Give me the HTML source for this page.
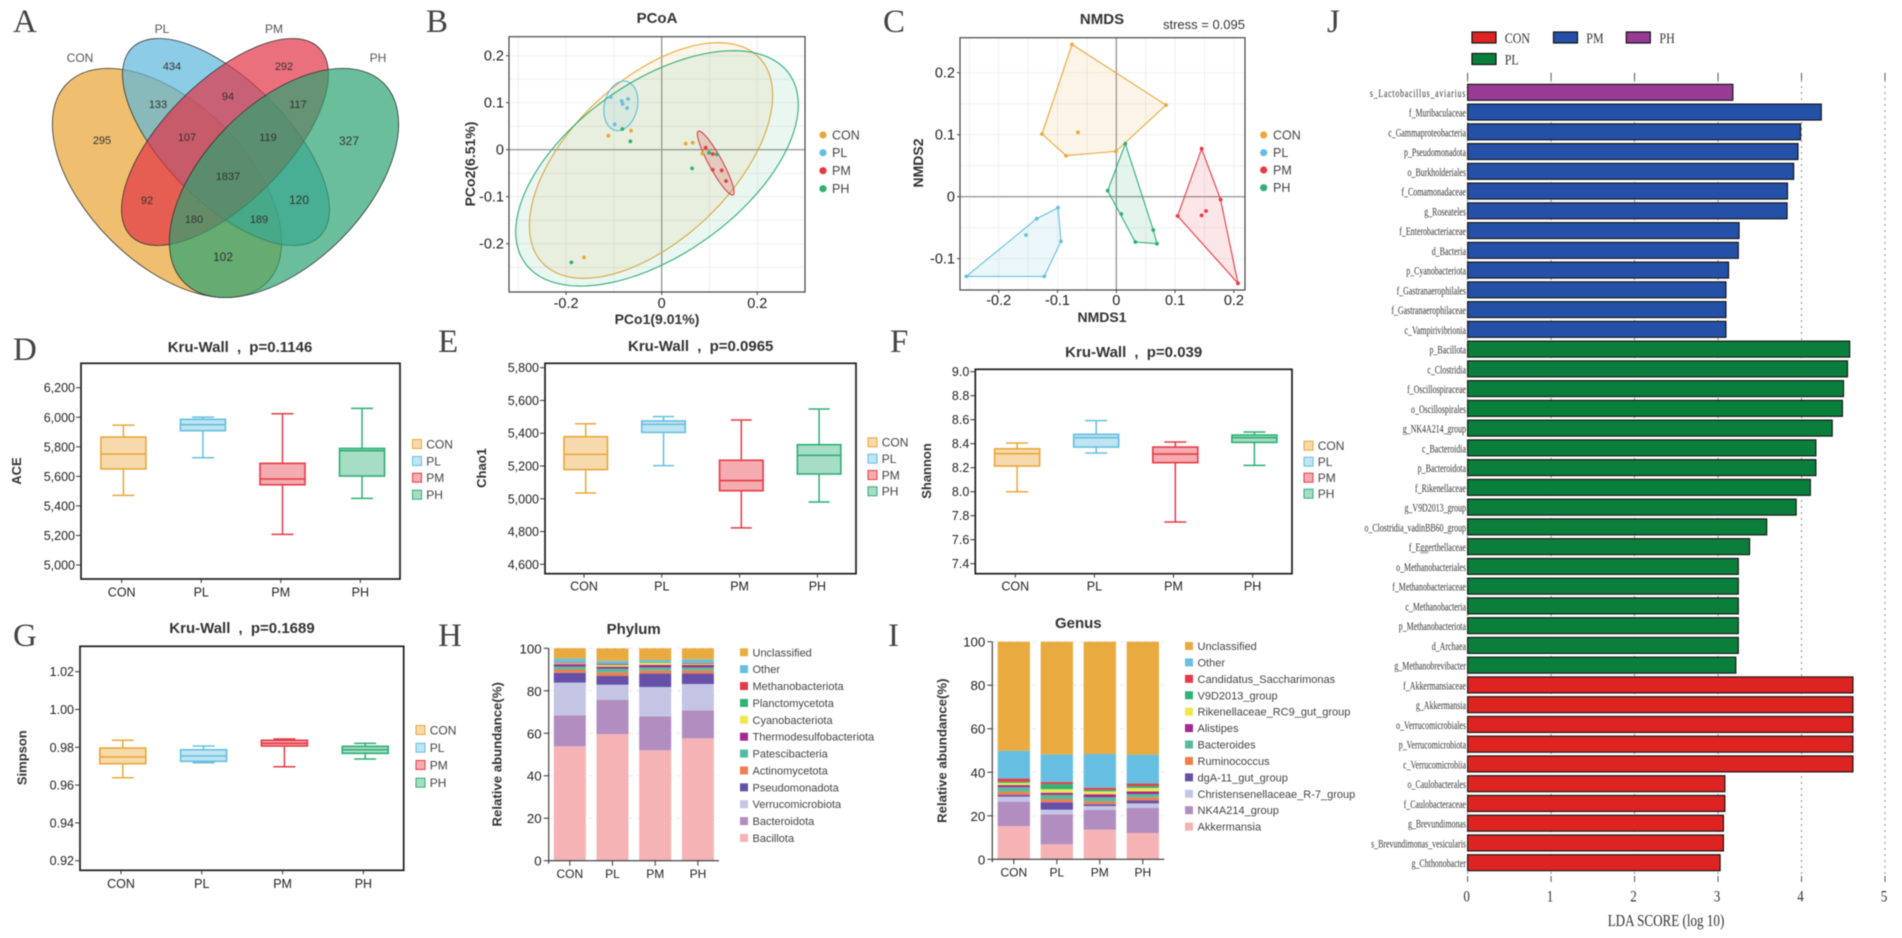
<!DOCTYPE html>
<html lang="en">
<head>
<meta charset="utf-8">
<title>Microbiome diversity composite figure</title>
<style>
html,body{margin:0;padding:0;background:#fff;width:1902px;height:938px;overflow:hidden}
svg{display:block;filter:blur(.4px)}
text{font-family:"Liberation Sans",sans-serif;fill:#333}
.letter{font-family:"Liberation Serif",serif;font-size:33px;fill:#444}
.title{font-weight:bold;font-size:15px;text-anchor:middle;fill:#333;word-spacing:4px}
.axt{font-weight:bold;font-size:14px;text-anchor:middle;fill:#333}
.boxt{font-weight:bold;font-size:13px;text-anchor:middle;fill:#333}
.vn{font-size:11px;text-anchor:middle;fill:#333}
.vl{font-size:12px;text-anchor:middle;fill:#555}
.serif{font-family:"Liberation Serif",serif;fill:#333}
</style>
</head>
<body>
<svg xmlns="http://www.w3.org/2000/svg" width="1902" height="938" viewBox="0 0 1902 938">
<rect x="0" y="0" width="1902" height="938" fill="#fff"/>

<g>
<text class="letter" x="13" y="32">A</text>
<text class="letter" x="426" y="32">B</text>
<text class="letter" x="883" y="32">C</text>
<text class="letter" x="13" y="360">D</text>
<text class="letter" x="438" y="352">E</text>
<text class="letter" x="890" y="352">F</text>
<text class="letter" x="13" y="646">G</text>
<text class="letter" x="438" y="646">H</text>
<text class="letter" x="888" y="646">I</text>
<text class="letter" x="1327" y="32">J</text>
</g>

<g>
<ellipse cx="167" cy="183" rx="141" ry="80" transform="rotate(45 167 183)" fill="#e9a637" fill-opacity=".72" stroke="#333" stroke-width=".8"/>
<ellipse cx="226" cy="142" rx="133" ry="61" transform="rotate(45 226 142)" fill="#5db7db" fill-opacity=".7" stroke="#333" stroke-width=".8"/>
<ellipse cx="225" cy="142" rx="133" ry="61" transform="rotate(-45 225 142)" fill="#e23346" fill-opacity=".7" stroke="#333" stroke-width=".8"/>
<ellipse cx="284" cy="183" rx="141" ry="80" transform="rotate(-45 284 183)" fill="#2ca270" fill-opacity=".7" stroke="#333" stroke-width=".8"/>
<text class="vl" x="80" y="62">CON</text>
<text class="vl" x="162" y="33">PL</text>
<text class="vl" x="274" y="33">PM</text>
<text class="vl" x="378" y="62">PH</text>
<text class="vn" x="172" y="70">434</text>
<text class="vn" x="284" y="70">292</text>
<text class="vn" x="158" y="108">133</text>
<text class="vn" x="228" y="100">94</text>
<text class="vn" x="298" y="108">117</text>
<text class="vn" x="102" y="144">295</text>
<text class="vn" x="187" y="141">107</text>
<text class="vn" x="268" y="141">119</text>
<text class="vn" style="font-size:12px" x="349" y="145">327</text>
<text class="vn" x="228" y="180">1837</text>
<text class="vn" x="147" y="204">92</text>
<text class="vn" style="font-size:12px" x="299" y="204">120</text>
<text class="vn" x="194" y="223">180</text>
<text class="vn" x="259" y="223">189</text>
<text class="vn" style="font-size:12px" x="223" y="261">102</text>
</g>

<g id="pcoa">
<text class="title" x="657" y="23">PCoA</text>
<text class="axt" x="657" y="324">PCo1(9.01%)</text>
<text class="axt" transform="translate(475 164) rotate(-90)">PCo2(6.51%)</text>
</g>

<g id="nmds">
<text class="title" x="1102" y="24">NMDS</text>
<text x="1245" y="29" style="font-size:13px;text-anchor:end">stress = 0.095</text>
<text class="axt" x="1102" y="322">NMDS1</text>
<text class="axt" transform="translate(923 163) rotate(-90)">NMDS2</text>
</g>

<g id="ace">
<text class="title" x="240" y="352">Kru-Wall , p=0.1146</text>
<text class="boxt" transform="translate(21 471) rotate(-90)">ACE</text>
</g>
<g id="chao">
<text class="title" x="700.7" y="351">Kru-Wall , p=0.0965</text>
<text class="boxt" transform="translate(486 468) rotate(-90)">Chao1</text>
</g>
<g id="shannon">
<text class="title" x="1133.7" y="357">Kru-Wall , p=0.039</text>
<text class="boxt" transform="translate(931 471) rotate(-90)">Shannon</text>
</g>
<g id="simpson">
<text class="title" x="242" y="633">Kru-Wall , p=0.1689</text>
<text class="boxt" transform="translate(26.5 757.7) rotate(-90)">Simpson</text>
</g>

<g id="phylum">
<text class="title" x="633.7" y="634">Phylum</text>
<text class="boxt" style="font-size:13.2px" transform="translate(501.5 754.3) rotate(-90)">Relative abundance(%)</text>
</g>
<g id="genus">
<text class="title" x="1078.3" y="628">Genus</text>
<text class="boxt" style="font-size:13.2px" transform="translate(946.5 750.7) rotate(-90)">Relative abundance(%)</text>
</g>

<g id="lda">
<g>
<rect x="1472" y="32" width="24" height="11" fill="#de2420" stroke="#111" stroke-width="1.2"/>
<text class="serif" style="font-size:15px" transform="translate(1504.7 43) scale(.8 1)">CON</text>
<rect x="1553.5" y="32" width="24" height="11" fill="#2450a8" stroke="#111" stroke-width="1.2"/>
<text class="serif" style="font-size:15px" transform="translate(1586.3 43) scale(.8 1)">PM</text>
<rect x="1626.3" y="32" width="24" height="11" fill="#993a94" stroke="#111" stroke-width="1.2"/>
<text class="serif" style="font-size:15px" transform="translate(1659.4 43) scale(.8 1)">PH</text>
<rect x="1472" y="53.5" width="24" height="11" fill="#0a7f3c" stroke="#111" stroke-width="1.2"/>
<text class="serif" style="font-size:15px" transform="translate(1504.7 64.5) scale(.8 1)">PL</text>
</g>
<text class="serif" style="font-size:17px;text-anchor:middle" transform="translate(1666 926) scale(.77 1)">LDA SCORE (log 10)</text>
</g>

<script>
// ---------- shared categories ----------
const groups = ['CON', 'PL', 'PM', 'PH'];

// ---------- PCoA points and ellipses (data units) ----------
const pcoaConX = [-0.1116, -0.0642, 0.0502, 0.0649, 0.0851, -0.1625];
const pcoaConY = [0.0298, 0.0404, 0.0128, 0.0149, -0.0085, -0.2291];
const pcoaPlX = [-0.1067, -0.0837, -0.0816, -0.0704, -0.0725, -0.0983];
const pcoaPlY = [0.1121, 0.1035, 0.0972, 0.1078, 0.0887, 0.0539];
const pcoaPmX = [0.0921, 0.1067, 0.1255, 0.1067, 0.1346];
const pcoaPmY = [0.0043, -0.0092, -0.0440, -0.0426, -0.0667];
const pcoaPhX = [-0.0823, -0.0656, 0.0990, 0.1151, 0.0635, -0.1890];
const pcoaPhY = [0.0440, 0.0177, -0.0064, -0.0099, -0.0397, -0.2397];
const pcoaEllipseCx = [-0.0223, -0.0854, 0.1130, -0.0098];
const pcoaEllipseCy = [-0.0230, 0.0933, -0.0284, -0.0397];
const pcoaEllipseHx = [0.2545, 0.0356, 0.0384, 0.2957];
const pcoaEllipseHy = [0.2507, 0.0528, 0.0681, 0.2504];
const pcoaEllipseRho = [0.553, 0.18, -0.91, 0.54];
const pcoaXTicks = [-0.2, 0, 0.2];
const pcoaYTicks = [0.2, 0.1, 0, -0.1, -0.2];
const pcoaGridX = [-0.3, -0.2, -0.1, 0.1, 0.2, 0.3];
const pcoaGridY = [0.2, 0.15, 0.1, 0.05, -0.05, -0.1, -0.15, -0.2, -0.25];

// ---------- NMDS points (data units) ----------
const nmdsConX = [-0.0754, 0.0845, -0.0006, -0.0856, -0.1264, -0.0652];
const nmdsConY = [0.2457, 0.1478, 0.0731, 0.0661, 0.1011, 0.1038];
const nmdsPlX = [-0.2551, -0.1224, -0.0941, -0.0992, -0.1355, -0.1536];
const nmdsPlY = [-0.1285, -0.1285, -0.0720, -0.0177, -0.0355, -0.0618];
const nmdsPmX = [0.1451, 0.1774, 0.2069, 0.1043, 0.1451, 0.1525];
const nmdsPmY = [0.0774, -0.0048, -0.1398, -0.0312, -0.0301, -0.0231];
const nmdsPhX = [0.0153, 0.0629, 0.0692, 0.0323, 0.0085, -0.0147];
const nmdsPhY = [0.0855, -0.0538, -0.0758, -0.0731, -0.0280, 0.0097];
const nmdsXTicks = [-0.2, -0.1, 0, 0.1, 0.2];
const nmdsYTicks = [0.2, 0.1, 0, -0.1];
const nmdsGridX = [-0.25, -0.2, -0.15, -0.1, -0.05, 0.05, 0.1, 0.15, 0.2];
const nmdsGridY = [0.2, 0.15, 0.1, 0.05, -0.05, -0.1];

// ---------- box-plot stats, one value per group ----------
const aceLow = [5471, 5726, 5207, 5451];
const aceQ1 = [5650, 5909, 5543, 5602];
const aceMedian = [5751, 5950, 5582, 5774];
const aceQ3 = [5866, 5986, 5688, 5789];
const aceHigh = [5947, 6001, 6024, 6060];
const aceTicks = [5000, 5200, 5400, 5600, 5800, 6000, 6200];

const chaoLow = [5035, 5202, 4822, 4980];
const chaoQ1 = [5178, 5405, 5049, 5151];
const chaoMedian = [5271, 5454, 5111, 5265];
const chaoQ3 = [5379, 5475, 5235, 5330];
const chaoHigh = [5458, 5501, 5481, 5548];
const chaoTicks = [4600, 4800, 5000, 5200, 5400, 5600, 5800];

const shannonLow = [8.0, 8.322, 7.747, 8.219];
const shannonQ1 = [8.214, 8.372, 8.242, 8.411];
const shannonMedian = [8.317, 8.45, 8.314, 8.45];
const shannonQ3 = [8.358, 8.478, 8.372, 8.472];
const shannonHigh = [8.406, 8.592, 8.414, 8.497];
const shannonTicks = [7.4, 7.6, 7.8, 8.0, 8.2, 8.4, 8.6, 8.8, 9.0];

const simpsonLow = [0.9639, 0.9718, 0.9697, 0.9738];
const simpsonQ1 = [0.9713, 0.9726, 0.9807, 0.9768];
const simpsonMedian = [0.9749, 0.9754, 0.9821, 0.9787];
const simpsonQ3 = [0.9796, 0.9787, 0.9837, 0.9805];
const simpsonHigh = [0.9837, 0.9807, 0.9844, 0.9821];
const simpsonTicks = [0.92, 0.94, 0.96, 0.98, 1.00, 1.02];

// ---------- Phylum composition (%), bottom to top ----------
const phylumNames = ['Bacillota', 'Bacteroidota', 'Verrucomicrobiota', 'Pseudomonadota', 'Actinomycetota', 'Patescibacteria', 'Thermodesulfobacteriota', 'Cyanobacteriota', 'Planctomycetota', 'Methanobacteriota', 'Other', 'Unclassified'];
const phylumBacillota = [53.85, 59.65, 52.0, 57.6];
const phylumBacteroidota = [14.6, 16.0, 16.0, 13.2];
const phylumVerrucomicrobiota = [15.4, 7.2, 13.8, 12.4];
const phylumPseudomonadota = [4.6, 4.1, 6.3, 4.9];
const phylumActinomycetota = [1.6, 1.7, 1.5, 1.5];
const phylumPatescibacteria = [1.4, 1.7, 1.4, 1.4];
const phylumThermodesulfobacteriota = [1.1, 1.0, 1.2, 1.2];
const phylumCyanobacteriota = [0.3, 0.7, 0.9, 0.4];
const phylumPlanctomycetota = [0.1, 0.3, 0.2, 0.3];
const phylumMethanobacteriota = [0.3, 0.4, 0.1, 0.3];
const phylumOther = [1.9, 1.4, 1.1, 1.6];
const phylumUnclassified = [4.9, 5.8, 5.5, 5.2];

// ---------- Genus composition (%), bottom to top ----------
const genusNames = ['Akkermansia', 'NK4A214_group', 'Christensenellaceae_R-7_group', 'dgA-11_gut_group', 'Ruminococcus', 'Bacteroides', 'Alistipes', 'Rikenellaceae_RC9_gut_group', 'V9D2013_group', 'Candidatus_Saccharimonas', 'Other', 'Unclassified'];
const genusAkkermansia = [15.3, 6.9, 13.6, 12.1];
const genusNk4a214 = [11.2, 13.8, 9.1, 11.5];
const genusChristensenellaceae = [2.3, 2.1, 1.8, 2.1];
const genusDga11 = [0.8, 3.4, 0.8, 1.3];
const genusRuminococcus = [1.5, 1.5, 1.3, 1.5];
const genusBacteroides = [2.0, 1.9, 1.9, 1.5];
const genusAlistipes = [1.0, 1.0, 1.4, 1.2];
const genusRikenellaceae = [1.0, 1.6, 1.3, 1.6];
const genusV9d2013 = [0.6, 2.3, 0.7, 0.9];
const genusCandidatus = [1.4, 1.0, 1.0, 1.1];
const genusOther = [12.8, 12.7, 15.5, 13.3];
const genusUnclassified = [50.1, 51.8, 51.6, 51.9];

const stackTicks = [0, 20, 40, 60, 80, 100];
const stackColors = ['#f5b3b5', '#b28dc0', '#c4c4e4', '#6650a8', '#ec7f4e', '#55bb9f', '#a3298e', '#efe64f', '#2fb177', '#e63b46', '#66bfe0', '#e9ab3f'];

// ---------- LDA scores ----------
const ldaLabels = ['s_Lactobacillus_aviarius', 'f_Muribaculaceae', 'c_Gammaproteobacteria', 'p_Pseudomonadota', 'o_Burkholderiales', 'f_Comamonadaceae', 'g_Roseateles', 'f_Enterobacteriaceae', 'd_Bacteria', 'p_Cyanobacteriota', 'f_Gastranaerophilales', 'f_Gastranaerophilaceae', 'c_Vampirivibrionia', 'p_Bacillota', 'c_Clostridia', 'f_Oscillospiraceae', 'o_Oscillospirales', 'g_NK4A214_group', 'c_Bacteroidia', 'p_Bacteroidota', 'f_Rikenellaceae', 'g_V9D2013_group', 'o_Clostridia_vadinBB60_group', 'f_Eggerthellaceae', 'o_Methanobacteriales', 'f_Methanobacteriaceae', 'c_Methanobacteria', 'p_Methanobacteriota', 'd_Archaea', 'g_Methanobrevibacter', 'f_Akkermansiaceae', 'g_Akkermansia', 'o_Verrucomicrobiales', 'p_Verrucomicrobiota', 'c_Verrucomicrobiia', 'o_Caulobacterales', 'f_Caulobacteraceae', 'g_Brevundimonas', 's_Brevundimonas_vesicularis', 'g_Chthonobacter'];
const ldaScores = [3.178, 4.237, 3.989, 3.958, 3.906, 3.832, 3.827, 3.252, 3.243, 3.126, 3.095, 3.095, 3.095, 4.577, 4.551, 4.503, 4.490, 4.368, 4.172, 4.172, 4.106, 3.936, 3.583, 3.378, 3.243, 3.243, 3.243, 3.243, 3.243, 3.213, 4.616, 4.616, 4.616, 4.616, 4.616, 3.082, 3.082, 3.065, 3.065, 3.025];
const ldaGroups = ['PH', 'PM', 'PM', 'PM', 'PM', 'PM', 'PM', 'PM', 'PM', 'PM', 'PM', 'PM', 'PM', 'PL', 'PL', 'PL', 'PL', 'PL', 'PL', 'PL', 'PL', 'PL', 'PL', 'PL', 'PL', 'PL', 'PL', 'PL', 'PL', 'PL', 'CON', 'CON', 'CON', 'CON', 'CON', 'CON', 'CON', 'CON', 'CON', 'CON'];
const ldaTicks = [0, 1, 2, 3, 4, 5];

// ---------- drawing ----------
const NS = 'http://www.w3.org/2000/svg';
const groupColors = {CON: '#e9a73a', PL: '#66bfe0', PM: '#e63a46', PH: '#2fae74'};
const ldaColors = {CON: '#de2420', PM: '#2450a8', PH: '#993a94', PL: '#0a7f3c'};

function node(tag, parent, attrs, text) {
  const e = document.createElementNS(NS, tag);
  for (const k in attrs) e.setAttribute(k, attrs[k]);
  if (text !== undefined) e.textContent = text;
  parent.appendChild(e);
  return e;
}
function linear(d0, d1, r0, r1) {
  return v => r0 + (v - d0) * (r1 - r0) / (d1 - d0);
}
function hull(xs, ys) {
  const p = xs.map((x, i) => [x, ys[i]]).sort((a, b) => a[0] - b[0] || a[1] - b[1]);
  const cross = (o, a, b) => (a[0] - o[0]) * (b[1] - o[1]) - (a[1] - o[1]) * (b[0] - o[0]);
  const lo = [], up = [];
  for (const q of p) { while (lo.length > 1 && cross(lo[lo.length - 2], lo[lo.length - 1], q) <= 0) lo.pop(); lo.push(q); }
  for (const q of p.slice().reverse()) { while (up.length > 1 && cross(up[up.length - 2], up[up.length - 1], q) <= 0) up.pop(); up.push(q); }
  return lo.slice(0, -1).concat(up.slice(0, -1));
}
function tickLabel(parent, x, y, str, anchor, size) {
  const t = node('text', parent, {x: x, y: y, style: 'font-size:' + size + 'px;text-anchor:' + anchor + ';fill:#222'}, str);
  
  
}
function tickMark(parent, x1, y1, x2, y2, color) {
  const l = node('line', parent, {x1: x1, y1: y1, x2: x2, y2: y2, stroke: color, 'stroke-width': 1});
  
  
}
function gridLine(parent, x1, y1, x2, y2, color, width, dash) {
  const l = node('line', parent, {x1: x1, y1: y1, x2: x2, y2: y2, stroke: color, 'stroke-width': width});
  if (dash) l.setAttribute('stroke-dasharray', dash);
  
  
}
function frame(parent, L, T, R, B, color, width) {
  const r = node('rect', parent, {x: L, y: T, width: R - L, height: B - T, fill: 'none', stroke: color, 'stroke-width': width});
  
  
}
function dotLegend(parent, dotX, textX, ys) {
  groups.forEach((g, i) => {
    const d = node('circle', parent, {cx: dotX, cy: ys[i], r: 3.6, fill: groupColors[g]});
    
    
    const t = node('text', parent, {x: textX, y: ys[i] + 4.5, style: 'font-size:12.5px;fill:#444'}, g);
    
    
  });
}
function fmtOrd(v) { return v === 0 ? '0' : v.toFixed(1); }

function ordinationAxes(root, cfg, x, y) {
  cfg.gridX.forEach(v => gridLine(root, x(v), cfg.T, x(v), cfg.B, '#efefef', 1));
  cfg.gridY.forEach(v => gridLine(root, cfg.L, y(v), cfg.R, y(v), '#efefef', 1));
  gridLine(root, x(0), cfg.T, x(0), cfg.B, '#9c9c9c', 1.4);
  gridLine(root, cfg.L, y(0), cfg.R, y(0), '#9c9c9c', 1.4);
  frame(root, cfg.L, cfg.T, cfg.R, cfg.B, '#444', 1.2);
  cfg.xTicks.forEach(v => {
    tickMark(root, x(v), cfg.B, x(v), cfg.B + 3, '#444');
    tickLabel(root, x(v), cfg.xLabelY, fmtOrd(v), 'middle', 14.5);
  });
  cfg.yTicks.forEach(v => {
    tickMark(root, cfg.L - 3, y(v), cfg.L, y(v), '#444');
    tickLabel(root, cfg.L - 5, y(v) + 5, fmtOrd(v), 'end', 14.5);
  });
}
function points(root, xs, ys, x, y, color, key) {
  xs.forEach((v, i) => {
    const c = node('circle', root, {cx: x(v), cy: y(ys[i]), r: 1.9, fill: color});
    
    
  });
}

function drawPcoa() {
  const root = document.getElementById('pcoa');
  const x = linear(0, 0.2, 661.7, 757.3);
  const y = linear(0, 0.2, 149.7, 55.7);
  const cfg = {L: 509, T: 36.7, R: 805, B: 292, gridX: pcoaGridX, gridY: pcoaGridY, xTicks: pcoaXTicks, yTicks: pcoaYTicks, xLabelY: 308};
  ordinationAxes(root, cfg, x, y);
  const order = [0, 1, 2, 3];
  order.forEach(i => {
    const g = groups[i];
    const phi = Math.acos(pcoaEllipseRho[i]);
    let d = '';
    for (let k = 0; k <= 96; k++) {
      const t = k / 96 * 2 * Math.PI;
      const px = x(pcoaEllipseCx[i] + pcoaEllipseHx[i] * Math.cos(t));
      const py = y(pcoaEllipseCy[i] + pcoaEllipseHy[i] * Math.cos(t - phi));
      d += (k ? 'L' : 'M') + px.toFixed(2) + ' ' + py.toFixed(2);
    }
    const e = node('path', root, {d: d + 'Z', fill: groupColors[g], 'fill-opacity': i === 2 ? 0.22 : 0.1, stroke: groupColors[g], 'stroke-width': 1.1});
    
    
  });
  points(root, pcoaConX, pcoaConY, x, y, groupColors.CON, 'con');
  points(root, pcoaPlX, pcoaPlY, x, y, groupColors.PL, 'pl');
  points(root, pcoaPmX, pcoaPmY, x, y, groupColors.PM, 'pm');
  points(root, pcoaPhX, pcoaPhY, x, y, groupColors.PH, 'ph');
  dotLegend(root, 823, 832, [135, 152.7, 170.7, 188.7]);
}

function drawNmds() {
  const root = document.getElementById('nmds');
  const x = linear(0, 0.1, 1116.3, 1175.1);
  const y = linear(0, 0.1, 196.7, 134.7);
  const cfg = {L: 960, T: 37.7, R: 1245, B: 290, gridX: nmdsGridX, gridY: nmdsGridY, xTicks: nmdsXTicks, yTicks: nmdsYTicks, xLabelY: 305};
  ordinationAxes(root, cfg, x, y);
  const sets = [[nmdsConX, nmdsConY, 'CON'], [nmdsPlX, nmdsPlY, 'PL'], [nmdsPmX, nmdsPmY, 'PM'], [nmdsPhX, nmdsPhY, 'PH']];
  sets.forEach(s => {
    const pts = hull(s[0], s[1]).map(p => x(p[0]).toFixed(1) + ',' + y(p[1]).toFixed(1)).join(' ');
    const h = node('polygon', root, {points: pts, fill: groupColors[s[2]], 'fill-opacity': 0.13, stroke: groupColors[s[2]], 'stroke-width': 1.1});
    
    
    points(root, s[0], s[1], x, y, groupColors[s[2]], s[2].toLowerCase());
  });
  dotLegend(root, 1263.7, 1273, [135, 152.7, 170, 187.7]);
}

function drawBoxPlot(rootId, low, q1, med, q3, high, ticks, fmt, cfg) {
  const root = document.getElementById(rootId);
  const y = linear(cfg.v0, cfg.v1, cfg.y0, cfg.y1);
  const tx = i => cfg.x0 + cfg.step * i;
  frame(root, cfg.L, cfg.T, cfg.R, cfg.B, '#1c1c1c', 1.7);
  ticks.forEach(v => {
    tickMark(root, cfg.L - 5, y(v), cfg.L, y(v), '#333');
    tickLabel(root, cfg.L - 6, y(v) + 4.5, fmt(v), 'end', 12.5);
  });
  groups.forEach((g, i) => {
    const c = groupColors[g];
    const cx = tx(i) + cfg.offset;
    tickMark(root, tx(i), cfg.B, tx(i), cfg.B + 4, '#333');
    tickLabel(root, tx(i), cfg.labelY, g, 'middle', 12.5);
    const w = node('line', root, {x1: cx, y1: y(low[i]), x2: cx, y2: y(high[i]), stroke: c, 'stroke-width': 1.5});
    
    
    const capLow = node('line', root, {x1: cx - cfg.cap / 2, y1: y(low[i]), x2: cx + cfg.cap / 2, y2: y(low[i]), stroke: c, 'stroke-width': 1.5});
    
    
    const capHigh = node('line', root, {x1: cx - cfg.cap / 2, y1: y(high[i]), x2: cx + cfg.cap / 2, y2: y(high[i]), stroke: c, 'stroke-width': 1.5});
    
    
    const bg = node('rect', root, {x: cx - cfg.box / 2, y: y(q3[i]), width: cfg.box, height: y(q1[i]) - y(q3[i]), fill: '#fff'});
    
    
    const b = node('rect', root, {x: cx - cfg.box / 2, y: y(q3[i]), width: cfg.box, height: y(q1[i]) - y(q3[i]), fill: c, 'fill-opacity': 0.42, stroke: c, 'stroke-width': 1.6});
    
    
    const m = node('line', root, {x1: cx - cfg.box / 2, y1: y(med[i]), x2: cx + cfg.box / 2, y2: y(med[i]), stroke: c, 'stroke-width': 1.6});
    
    
    const sw = node('rect', root, {x: cfg.legX, y: cfg.legYs[i] - 4.5, width: 9, height: 9, fill: c, 'fill-opacity': 0.42, stroke: c, 'stroke-width': 1});
    
    
    const lt = node('text', root, {x: cfg.legX + 13.7, y: cfg.legYs[i] + 4.3, style: 'font-size:12px;fill:#444'}, g);
    
    
  });
}

function drawStack(rootId, names, series, cfg) {
  const root = document.getElementById(rootId);
  const y = linear(0, 100, cfg.y0, cfg.y100);
  const cx = i => cfg.x0 + cfg.step * i;
  stackTicks.forEach(v => {
    if (v > 0) gridLine(root, cfg.axisX, y(v), cfg.axisR, y(v), '#e6e6e6', 1, '4 4');
    tickMark(root, cfg.axisX - 5, y(v), cfg.axisX, y(v), '#333');
    tickLabel(root, cfg.axisX - 7, y(v) + 5, String(v), 'end', 13.3);
  });
  groups.forEach((g, i) => {
    let cum = 0;
    series.forEach((s, k) => {
      const r = node('rect', root, {x: cx(i) - cfg.bar / 2, y: y(cum + s[i]), width: cfg.bar, height: y(cum) - y(cum + s[i]), fill: stackColors[k]});
      
      
      cum += s[i];
    });
    tickMark(root, cx(i), cfg.y0, cx(i), cfg.y0 + 5, '#333');
    tickLabel(root, cx(i), cfg.labelY, g, 'middle', 12);
  });
  const axisY = node('line', root, {x1: cfg.axisX, y1: cfg.y100, x2: cfg.axisX, y2: cfg.y0 + 3, stroke: '#333', 'stroke-width': 1.1});
  
  
  const axisX = node('line', root, {x1: cfg.axisX, y1: cfg.y0, x2: cfg.axisR, y2: cfg.y0, stroke: '#333', 'stroke-width': 1.1});
  
  
  names.forEach((n, k) => {
    const ly = cfg.legY + (names.length - 1 - k) * cfg.legStep;
    const sw = node('rect', root, {x: cfg.legX, y: ly - 4, width: 8, height: 8, fill: stackColors[k]});
    
    
    const t = node('text', root, {x: cfg.legX + 12.5, y: ly + 4, style: 'font-size:11px;fill:#444'}, n);
    
    
  });
}

function drawLda() {
  const root = document.getElementById('lda');
  const x = linear(0, 5, 1467.6, 1885);
  const yTop = 84.3, pitch = 19.754, barH = 16;
  ldaTicks.forEach(v => {
    gridLine(root, x(v), 80, x(v), 876, '#8a8a8a', 1, '2 4');
    tickMark(root, x(v), 72.7, x(v), 80, '#555');
    tickMark(root, x(v), 876, x(v), 882, '#555');
    const t = node('text', root, {transform: 'translate(' + (x(v) - 1) + ' 901.7) scale(.82 1)', class: 'serif', style: 'font-size:16px;text-anchor:middle'}, String(v));
    
    
  });
  ldaLabels.forEach((name, i) => {
    const yy = yTop + pitch * i;
    const b = node('rect', root, {x: x(0), y: yy, width: x(ldaScores[i]) - x(0), height: barH, fill: ldaColors[ldaGroups[i]], stroke: '#111', 'stroke-width': 1.1});
    
    
    const spacing = i === 0 ? ';letter-spacing:1.1px' : '';
    const t = node('text', root, {transform: 'translate(1466 ' + (yy + 12.5) + ') scale(.66 1)', class: 'serif', style: 'font-size:12px;text-anchor:end' + spacing}, name);
    
    
  });
}

drawPcoa();
drawNmds();
const fmtThousands = v => v.toLocaleString('en-US');
drawBoxPlot('ace', aceLow, aceQ1, aceMedian, aceQ3, aceHigh, aceTicks, fmtThousands, {
  L: 81, T: 363.3, R: 400, B: 579, v0: 5000, v1: 6200, y0: 565, y1: 387.7,
  x0: 121.7, step: 79.55, offset: 1.7, box: 45, cap: 22, labelY: 596.7,
  legX: 412.5, legYs: [444, 461, 477.7, 494.7]
});
drawBoxPlot('chao', chaoLow, chaoQ1, chaoMedian, chaoQ3, chaoHigh, chaoTicks, fmtThousands, {
  L: 545, T: 363.3, R: 856, B: 573.7, v0: 4600, v1: 5800, y0: 564.3, y1: 367.7,
  x0: 584, step: 77.8, offset: 1.7, box: 43.5, cap: 21, labelY: 590.7,
  legX: 868, legYs: [442.3, 458.7, 475, 491.3]
});
drawBoxPlot('shannon', shannonLow, shannonQ1, shannonMedian, shannonQ3, shannonHigh, shannonTicks, v => v.toFixed(1), {
  L: 975.3, T: 369.3, R: 1292, B: 573.7, v0: 7.4, v1: 9.0, y0: 563.7, y1: 371.7,
  x0: 1015.3, step: 79.1, offset: 1.8, box: 45, cap: 22, labelY: 590.7,
  legX: 1304, legYs: [445.7, 461.7, 477.7, 493.7]
});
drawBoxPlot('simpson', simpsonLow, simpsonQ1, simpsonMedian, simpsonQ3, simpsonHigh, simpsonTicks, v => v.toFixed(2), {
  L: 80, T: 646.3, R: 403.7, B: 870.3, v0: 0.92, v1: 1.02, y0: 860.7, y1: 671.7,
  x0: 121, step: 80.8, offset: 1.8, box: 46, cap: 22, labelY: 888,
  legX: 416, legYs: [730, 747.7, 765, 782.7]
});
drawStack('phylum', phylumNames, [phylumBacillota, phylumBacteroidota, phylumVerrucomicrobiota, phylumPseudomonadota, phylumActinomycetota, phylumPatescibacteria, phylumThermodesulfobacteriota, phylumCyanobacteriota, phylumPlanctomycetota, phylumMethanobacteriota, phylumOther, phylumUnclassified], {
  y0: 860.7, y100: 648.3, axisX: 548.7, axisR: 719, x0: 569.8, step: 42.7, bar: 32,
  labelY: 878, legX: 740, legY: 652.3, legStep: 16.88
});
drawStack('genus', genusNames, [genusAkkermansia, genusNk4a214, genusChristensenellaceae, genusDga11, genusRuminococcus, genusBacteroides, genusAlistipes, genusRikenellaceae, genusV9d2013, genusCandidatus, genusOther, genusUnclassified], {
  y0: 859.3, y100: 641.7, axisX: 992.3, axisR: 1164.3, x0: 1013.8, step: 43, bar: 32.3,
  labelY: 876.7, legX: 1185, legY: 646, legStep: 16.42
});
drawLda();
</script>
</svg>
</body>
</html>
